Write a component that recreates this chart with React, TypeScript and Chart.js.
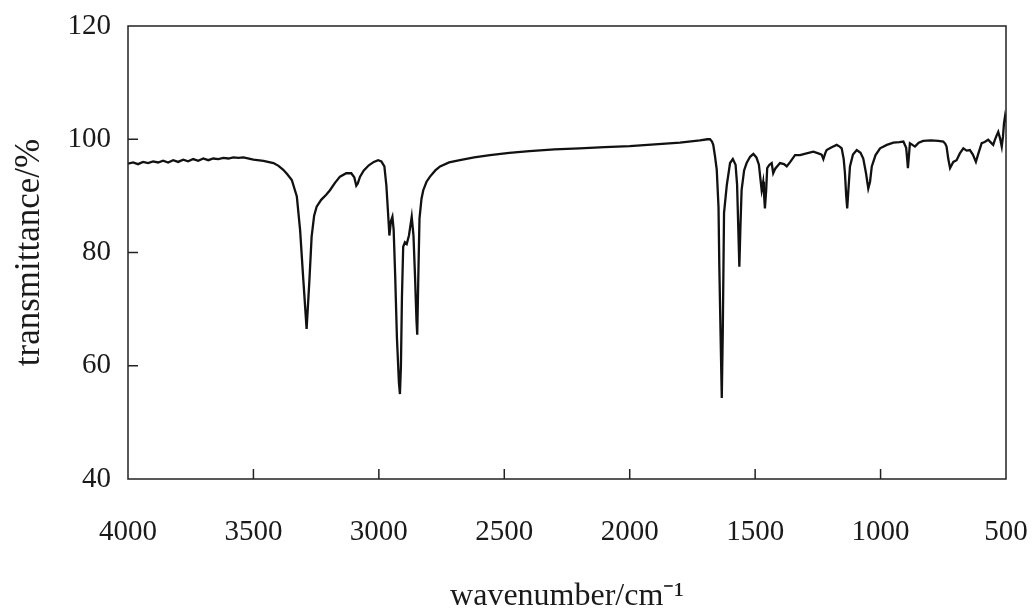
import React, { useEffect, useRef } from "react";
import { Chart, registerables } from "chart.js";

Chart.register(...registerables);

const wavenumbers = [
  4000, 3980, 3960, 3940, 3920, 3900, 3880, 3860, 3840, 3820, 3800, 3780, 3760, 3740, 3720, 3700,
  3680, 3660, 3640, 3620, 3600, 3580, 3560, 3540, 3500, 3460, 3420, 3400, 3381, 3365, 3347, 3327,
  3314, 3301, 3288, 3277, 3268, 3258, 3248, 3230, 3210, 3195, 3175, 3155, 3130, 3110, 3098, 3090,
  3084, 3075, 3060, 3040, 3020, 3003, 2990, 2978, 2970, 2962, 2958, 2952, 2946, 2941, 2935, 2928,
  2920, 2916, 2912, 2908, 2903, 2896, 2889, 2880, 2869, 2862, 2856, 2850, 2847, 2843, 2838, 2830,
  2823, 2810, 2796, 2775, 2756, 2720, 2677, 2620, 2557, 2480, 2400, 2300, 2200, 2100, 2000, 1900,
  1800, 1720, 1690, 1680, 1672, 1667, 1660, 1653, 1646, 1643, 1638, 1633, 1629, 1624, 1613, 1600,
  1589, 1578, 1572, 1567, 1563, 1559, 1554, 1544, 1534, 1520, 1507, 1495, 1485, 1479, 1474, 1468,
  1465, 1461, 1456, 1452, 1443, 1434, 1428, 1420, 1401, 1385, 1374, 1360, 1341, 1321, 1295, 1268,
  1248, 1235, 1228, 1220, 1215, 1195, 1175, 1163, 1155, 1147, 1142, 1137, 1133, 1129, 1122, 1110,
  1095, 1080, 1069, 1058, 1049, 1042, 1035, 1020, 1002, 975, 949, 925, 909, 898, 893, 891,
  888, 883, 873, 863, 848, 830, 800, 770, 750, 742, 737, 730, 723, 716, 710, 697,
  684, 670, 657, 644, 632, 620, 610, 597, 585, 571, 560, 551, 545, 538, 531, 524,
  517, 512, 508, 504, 500,
];

const transmittance = [
  95.7, 95.9, 95.6, 96.0, 95.8, 96.1, 95.9, 96.2, 95.9, 96.3, 96.0, 96.4, 96.1, 96.5, 96.2, 96.6,
  96.3, 96.6, 96.5, 96.7, 96.6, 96.8, 96.7, 96.8, 96.4, 96.2, 95.8, 95.3, 94.6, 93.8, 92.8, 89.9,
  84.0, 75.1, 66.5, 75.0, 82.8, 86.5, 88.1, 89.3, 90.2, 91.0, 92.3, 93.4, 94.0, 94.0, 93.3, 91.8,
  92.2, 93.4, 94.5, 95.4, 96.0, 96.3, 96.1, 95.2, 91.8, 86.0, 83.0, 85.5, 86.3, 84.0, 76.0, 65.0,
  57.0, 55.0, 60.0, 72.0, 81.0, 81.8, 81.5, 83.0, 86.3, 83.0, 76.0, 68.0, 65.5, 75.0, 86.0, 89.5,
  91.0, 92.5, 93.4, 94.5, 95.2, 95.9, 96.3, 96.8, 97.2, 97.6, 97.9, 98.2, 98.4, 98.6, 98.8, 99.1,
  99.4, 99.8, 100.0, 100.0, 99.6, 99.0, 97.0, 94.6, 88.0, 78.1, 66.0, 54.3, 66.0, 87.0, 91.9, 95.8,
  96.5, 95.5, 92.0, 84.0, 77.5, 84.0, 91.0, 94.5, 95.8, 96.9, 97.4, 96.8, 95.5, 93.0, 91.0, 92.5,
  90.5, 87.8, 91.0, 94.9, 95.5, 95.8, 94.0, 94.8, 95.8, 95.6, 95.2, 96.0, 97.2, 97.2, 97.5, 97.8,
  97.5, 97.3, 96.5, 97.6, 98.1, 98.6, 99.0, 98.7, 98.4, 96.5, 94.0, 90.0, 87.8, 90.5, 95.2, 97.3,
  98.1, 97.6, 96.6, 94.0, 91.3, 92.5, 95.2, 97.2, 98.4, 99.0, 99.4, 99.5, 99.6, 98.5, 96.0, 94.9,
  96.5, 99.3, 99.0, 98.7, 99.4, 99.7, 99.8, 99.7, 99.6, 99.2, 98.7, 96.5, 94.9, 95.5, 96.0, 96.3,
  97.5, 98.4, 98.0, 98.1, 97.3, 96.0, 97.5, 99.3, 99.5, 99.9, 99.4, 99.0, 99.8, 100.6, 101.3, 100.2,
  98.7, 100.5, 102.8, 104.0, 103.0,
];

const xTickValues = [4000, 3500, 3000, 2500, 2000, 1500, 1000, 500];
const yTickValues = [40, 60, 80, 100, 120];

const xTitle = "wavenumber/cm\u207B\u00B9";
const yTitle = "transmittance/%";

const FONT = "'Liberation Serif', 'Times New Roman', serif";
const INK = "#1a1a1a";

const framePlugin = {
  id: "frameBox",
  afterDatasetsDraw(chart: any) {
    const { ctx, chartArea, scales } = chart;
    const { left, right, top, bottom } = chartArea;
    ctx.save();
    ctx.strokeStyle = "#222";
    ctx.lineWidth = 1.5;
    ctx.strokeRect(left, top, right - left, bottom - top);
    ctx.beginPath();
    xTickValues.forEach((v) => {
      const px = scales.x.getPixelForValue(v);
      if (Math.abs(px - left) < 2 || Math.abs(px - right) < 2) return;
      ctx.moveTo(px, bottom);
      ctx.lineTo(px, bottom - 10);
    });
    yTickValues.forEach((v) => {
      const py = scales.y.getPixelForValue(v);
      if (Math.abs(py - top) < 2 || Math.abs(py - bottom) < 2) return;
      ctx.moveTo(left, py);
      ctx.lineTo(left + 10, py);
    });
    ctx.stroke();
    ctx.restore();
  },
};

export default function App() {
  const canvasRef = useRef<HTMLCanvasElement | null>(null);

  useEffect(() => {
    const canvas = canvasRef.current;
    if (!canvas) return;
    const points = wavenumbers.map((w, i) => ({ x: w, y: transmittance[i] }));
    const chart = new Chart(canvas, {
      type: "line",
      data: {
        datasets: [
          {
            label: "IR spectrum",
            data: points,
            borderColor: "#111",
            borderWidth: 2.3,
            pointRadius: 0,
            tension: 0,
            fill: false,
          },
        ],
      },
      options: {
        responsive: false,
        animation: false,
        layout: { padding: { top: 26, right: 29, left: 0, bottom: 0 } },
        plugins: {
          legend: { display: false },
          tooltip: { enabled: false },
        },
        scales: {
          x: {
            type: "linear",
            reverse: true,
            min: 500,
            max: 4000,
            grid: { display: false, drawTicks: false },
            border: { display: false },
            afterBuildTicks: (scale: any) => {
              scale.ticks = xTickValues.map((v) => ({ value: v }));
            },
            afterFit: (scale: any) => {
              scale.height = 134;
              scale.paddingLeft = 0;
              scale.paddingRight = 0;
            },
            ticks: {
              autoSkip: false,
              maxRotation: 0,
              color: INK,
              padding: 36,
              font: { family: FONT, size: 29 },
              callback: (v: any) => String(v),
            },
            title: {
              display: true,
              text: xTitle,
              color: INK,
              font: { family: FONT, size: 32, lineHeight: 1 },
              padding: { top: 0, bottom: 0 },
            },
          },
          y: {
            type: "linear",
            min: 40,
            max: 120,
            grid: { display: false, drawTicks: false },
            border: { display: false },
            afterBuildTicks: (scale: any) => {
              scale.ticks = yTickValues.map((v) => ({ value: v }));
            },
            afterFit: (scale: any) => {
              scale.width = 128;
              scale.paddingTop = 0;
              scale.paddingBottom = 0;
            },
            ticks: {
              color: INK,
              padding: 17,
              font: { family: FONT, size: 29 },
              callback: (v: any) => String(v),
            },
            title: {
              display: true,
              text: yTitle,
              color: INK,
              font: { family: FONT, size: 35, lineHeight: 1 },
              padding: { top: 12, bottom: 12 },
            },
          },
        },
      },
      plugins: [framePlugin],
    });
    return () => chart.destroy();
  }, []);

  return (
    <div style={{ position: "absolute", left: 0, top: 0, width: 1035, height: 613, background: "#fff" }}>
      <canvas ref={canvasRef} width={1035} height={613} />
    </div>
  );
}
